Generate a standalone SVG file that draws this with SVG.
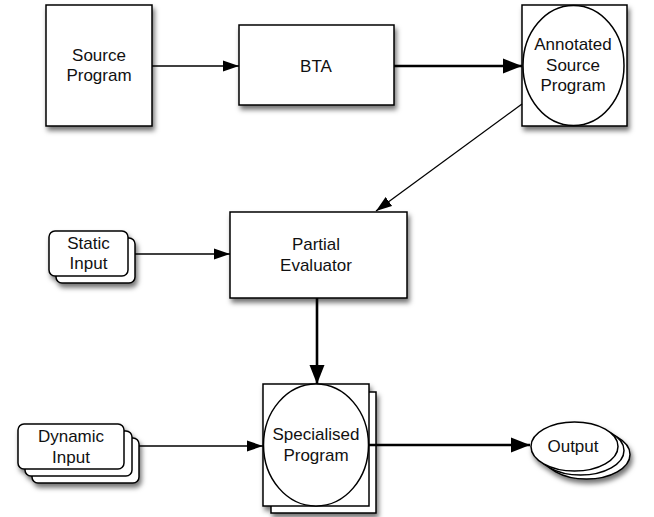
<svg xmlns="http://www.w3.org/2000/svg" width="654" height="517" viewBox="0 0 654 517">
<defs>
<filter id="sh" x="-20%" y="-20%" width="150%" height="150%">
<feDropShadow dx="2" dy="4" stdDeviation="2.5" flood-color="#000" flood-opacity="0.55"/>
</filter>
<marker id="a" markerUnits="userSpaceOnUse" markerWidth="16" markerHeight="12" refX="16" refY="6" orient="auto">
<path d="M0,0.5 L16,6 L0,11.5 Z" fill="#000"/>
</marker>
<marker id="ab" markerUnits="userSpaceOnUse" markerWidth="19" markerHeight="16" refX="19" refY="8" orient="auto">
<path d="M0,0.5 L19,8 L0,15.5 Z" fill="#000"/>
</marker>
</defs>
<style>
.b{fill:#fff;stroke:#000;stroke-width:1.5}
.t{font-family:"Liberation Sans",Arial,sans-serif;font-size:17px;fill:#111;text-anchor:middle}
.c{fill:none;stroke:#000}
.th{stroke-width:1.3}
.tk{stroke-width:2.6}
</style>

<g id="source-program">
<rect class="b" x="46" y="5" width="106" height="121" filter="url(#sh)"/>
<text class="t" x="99" y="61">Source</text>
<text class="t" x="99" y="81">Program</text>
</g>

<g id="bta">
<rect class="b" x="239" y="25" width="155" height="80" filter="url(#sh)"/>
<text class="t" x="316" y="72">BTA</text>
</g>

<g id="annotated-source-program">
<rect class="b" x="522" y="5" width="105" height="121" filter="url(#sh)"/>
<ellipse class="b" cx="573.5" cy="65.5" rx="50.5" ry="60"/>
<text class="t" x="573" y="50">Annotated</text>
<text class="t" x="573" y="71">Source</text>
<text class="t" x="573" y="91">Program</text>
</g>

<g id="partial-evaluator">
<rect class="b" x="230" y="212" width="177" height="86" filter="url(#sh)"/>
<text class="t" x="316" y="250">Partial</text>
<text class="t" x="316" y="271">Evaluator</text>
</g>

<g id="static-input">
<g filter="url(#sh)">
<rect class="b" x="56" y="238" width="79" height="45" rx="6"/>
<rect class="b" x="49" y="231" width="79" height="45" rx="6"/>
</g>
<text class="t" x="88.5" y="249">Static</text>
<text class="t" x="88.5" y="269">Input</text>
</g>

<g id="specialised-program">
<g filter="url(#sh)">
<rect class="b" x="271" y="392" width="105" height="121"/>
<rect class="b" x="263" y="384" width="106" height="122"/>
</g>
<ellipse class="b" cx="316" cy="445" rx="52.5" ry="61"/>
<text class="t" x="316" y="440">Specialised</text>
<text class="t" x="316" y="461">Program</text>
</g>

<g id="dynamic-input">
<g filter="url(#sh)">
<rect class="b" x="32" y="438" width="107" height="45" rx="6"/>
<rect class="b" x="25" y="431" width="107" height="45" rx="6"/>
<rect class="b" x="18" y="424" width="106" height="45" rx="6"/>
</g>
<text class="t" x="71" y="442">Dynamic</text>
<text class="t" x="71" y="463">Input</text>
</g>

<g id="output">
<g filter="url(#sh)">
<ellipse class="b" cx="586.5" cy="454.5" rx="43.5" ry="24.5"/>
<ellipse class="b" cx="580.5" cy="450.5" rx="43.5" ry="24.5"/>
<ellipse class="b" cx="574.5" cy="446.5" rx="43.5" ry="24.5"/>
</g>
<text class="t" x="573" y="452">Output</text>
</g>

<g id="connectors">
<line class="c th" x1="152" y1="66" x2="239" y2="66" marker-end="url(#a)"/>
<line class="c tk" x1="394" y1="66" x2="522" y2="66" marker-end="url(#ab)"/>
<line class="c th" x1="522" y1="104" x2="376" y2="211" marker-end="url(#a)"/>
<line class="c th" x1="135" y1="254" x2="230" y2="254" marker-end="url(#a)"/>
<line class="c tk" x1="317" y1="298" x2="317" y2="384" marker-end="url(#ab)"/>
<line class="c th" x1="139" y1="446" x2="263" y2="446" marker-end="url(#a)"/>
<line class="c tk" x1="369" y1="445" x2="530" y2="445" marker-end="url(#ab)"/>
</g>
</svg>
